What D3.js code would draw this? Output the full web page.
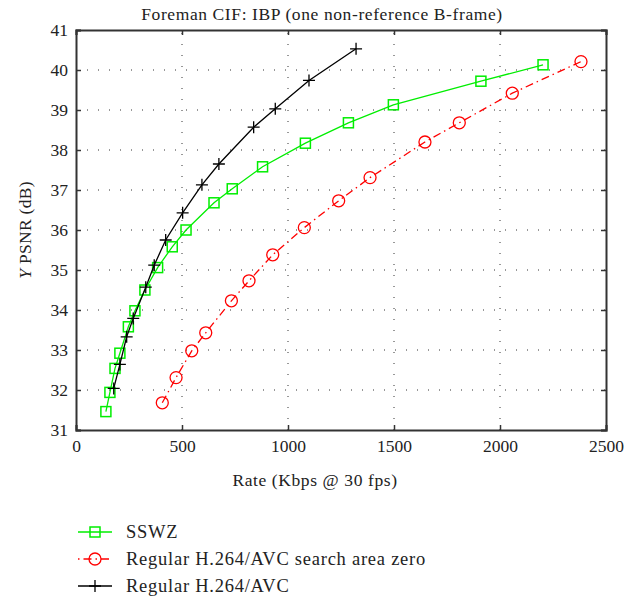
<!DOCTYPE html>
<html><head><meta charset="utf-8">
<script src="https://cdn.jsdelivr.net/npm/d3@7"></script>
<style>body{margin:0;background:#fff}svg{display:block}text{font-family:"Liberation Serif","Times New Roman",serif;fill:#222}</style>
</head><body><svg id="c" width="640" height="598"></svg>
<script>
const title = "Foreman CIF: IBP (one non-reference B-frame)";
const xTicks = [0, 500, 1000, 1500, 2000, 2500];
const yTicks = [31, 32, 33, 34, 35, 36, 37, 38, 39, 40, 41];
const seriesNames = ["SSWZ", "Regular H.264/AVC search area zero", "Regular H.264/AVC"];
const sswzRate = [141, 160, 184, 207, 247, 278, 325, 385, 454, 519, 651, 737, 880, 1082, 1285, 1497, 1910, 2203];
const sswzPsnr = [31.46, 31.94, 32.54, 32.92, 33.58, 33.98, 34.50, 35.06, 35.58, 36.00, 36.68, 37.03, 37.58, 38.17, 38.68, 39.13, 39.72, 40.13];
const zeroRate = [407, 472, 546, 612, 733, 816, 928, 1077, 1239, 1387, 1646, 1808, 2058, 2382];
const zeroPsnr = [31.68, 32.31, 32.98, 33.43, 34.23, 34.73, 35.38, 36.06, 36.73, 37.31, 38.20, 38.68, 39.42, 40.21];
const avcRate = [178, 207, 239, 270, 329, 369, 423, 503, 594, 674, 838, 940, 1099, 1321];
const avcPsnr = [32.04, 32.64, 33.33, 33.79, 34.57, 35.12, 35.75, 36.43, 37.13, 37.65, 38.57, 39.03, 39.74, 40.53];

const svg = d3.select("#c");
const L = 76, R = 606, T = 30, B = 430;
const x = d3.scaleLinear().domain([0, 2500]).range([L, R]);
const y = d3.scaleLinear().domain([31, 41]).range([B, T]);

// grid
const g = svg.append("g");
g.selectAll(".gx").data(xTicks.slice(1, -1)).enter().append("line")
  .attr("x1", d => x(d)).attr("x2", d => x(d)).attr("y1", B).attr("y2", T)
  .attr("stroke", "#333").attr("stroke-width", 1).attr("stroke-dasharray", "1,10");
g.selectAll(".gy").data(yTicks.slice(1, -1)).enter().append("line")
  .attr("y1", d => y(d)).attr("y2", d => y(d)).attr("x1", L).attr("x2", R)
  .attr("stroke", "#333").attr("stroke-width", 1).attr("stroke-dasharray", "1,10");

// axes
const ax = d3.axisBottom(x).tickValues(xTicks).tickSize(-5).tickPadding(10).tickFormat(d3.format("d"));
const axT = d3.axisTop(x).tickValues(xTicks).tickSize(-5).tickFormat("");
const ay = d3.axisLeft(y).tickValues(yTicks).tickSize(-5).tickPadding(8).tickFormat(d3.format("d"));
const ayR = d3.axisRight(y).tickValues(yTicks).tickSize(-5).tickFormat("");
function style(sel) {
  sel.selectAll("path,line").attr("stroke", "#333").attr("stroke-width", 1.5);
  sel.selectAll("text").attr("font-size", 17.5).attr("fill", "#222").style("font-family", '"Liberation Serif",serif');
}
svg.append("g").attr("transform", `translate(0,${B})`).call(ax).call(style);
svg.append("g").attr("transform", `translate(0,${T})`).call(axT).call(style);
svg.append("g").attr("transform", `translate(${L},0)`).call(ay).call(style);
svg.append("g").attr("transform", `translate(${R},0)`).call(ayR).call(style);
svg.selectAll(".domain").attr("stroke", "#333").attr("stroke-width", 2);

// title and labels
svg.append("text").attr("x", 322).attr("y", 20).attr("text-anchor", "middle").attr("font-size", 17.5).attr("letter-spacing", 0.6).text(title);
svg.append("text").attr("x", 315).attr("y", 486).attr("text-anchor", "middle").attr("font-size", 17.5).attr("letter-spacing", 0.6).text("Rate (Kbps @ 30 fps)");
const yl = svg.append("text").attr("transform", `translate(31,${(T + B) / 2}) rotate(-90)`).attr("text-anchor", "middle").attr("font-size", 17.5).attr("letter-spacing", 0.3);
yl.append("tspan").attr("font-style", "italic").text("Y");
yl.append("tspan").text(" PSNR (dB)");

const line = d3.line().x(d => x(d[0])).y(d => y(d[1]));
const series = [
  {name: seriesNames[0], rate: sswzRate, psnr: sswzPsnr, color: "#00ee00", dash: null, marker: "square"},
  {name: seriesNames[1], rate: zeroRate, psnr: zeroPsnr, color: "#ff0000", dash: "8,4,1.5,4", marker: "circle"},
  {name: seriesNames[2], rate: avcRate, psnr: avcPsnr, color: "#000000", dash: null, marker: "plus"}
];
function marker(sel, m, color) {
  if (m === "square") sel.append("rect").attr("x", -5).attr("y", -5).attr("width", 10).attr("height", 10).attr("fill", "none").attr("stroke", color).attr("stroke-width", 1.5);
  else if (m === "circle") sel.append("circle").attr("r", 6).attr("fill", "none").attr("stroke", color).attr("stroke-width", 1.3);
  else sel.append("path").attr("d", "M-6,0H6M0,-6V6").attr("stroke", color).attr("stroke-width", 1.3);
}
series.forEach(s => {
  const pts = s.rate.map((r, i) => [r, s.psnr[i]]);
  svg.append("path").datum(pts).attr("d", line).attr("fill", "none").attr("stroke", s.color).attr("stroke-width", 1.3)
    .attr("stroke-dasharray", s.dash);
  svg.selectAll(null).data(pts).enter().append("g").attr("transform", d => `translate(${x(d[0])},${y(d[1])})`)
    .each(function () { marker(d3.select(this), s.marker, s.color); });
});

// legend
const legY = [532, 559, 586];
series.forEach((s, i) => {
  const lg = svg.append("g").attr("transform", `translate(0,${legY[i]})`);
  lg.append("line").attr("x1", 78).attr("x2", 112).attr("y1", 0).attr("y2", 0).attr("stroke", s.color).attr("stroke-width", 1.3).attr("stroke-dasharray", s.dash ? "1.5,4,8,4" : null);
  const mg = lg.append("g").attr("transform", "translate(95,0)");
  marker(mg, s.marker, s.color);
  lg.append("text").attr("x", 126).attr("y", 6).attr("font-size", 18.5).attr("letter-spacing", 0.75).text(s.name);
});
</script></body></html>
